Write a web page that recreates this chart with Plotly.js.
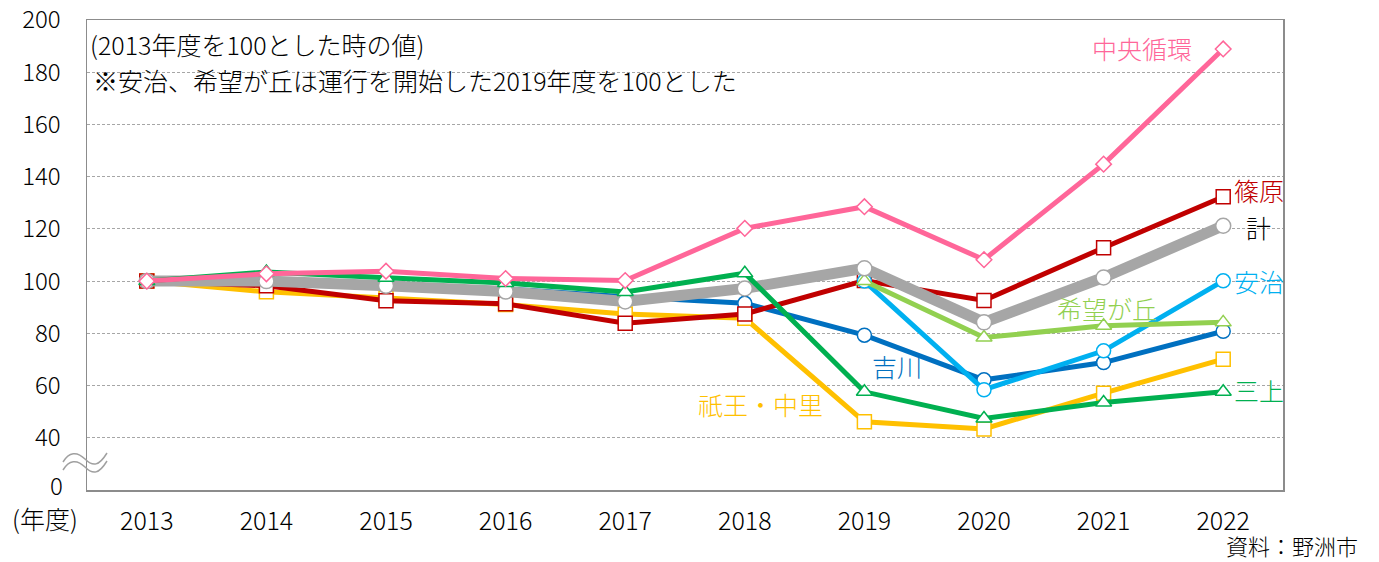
<!DOCTYPE html>
<html>
<head>
<meta charset="utf-8">
<script src="https://cdn.plot.ly/plotly-3.0.1.min.js"></script>
<style>html,body{margin:0;padding:0;background:#fff;}#chart{width:1379px;height:562px;}</style>
</head>
<body>
<div id="chart"></div>
<script>
// ---- data ----
const years = ['2013','2014','2015','2016','2017','2018','2019','2020','2021','2022'];
const chuoJunkan = [100, 102.8, 103.8, 101, 100.2, 120.2, 128.5, 108.2, 144.8, 188.9];
const shinohara  = [100, 98.2, 92.5, 91.3, 83.9, 87.4, 100.2, 92.6, 112.8, 132.3];
const total      = [100, 100, 98.2, 96, 92.2, 97.2, 104.9, 84.2, 101.4, 121.2];
const mikami     = [100, 103.5, 101.3, 99.3, 95.8, 103, 57.6, 47.4, 53.5, 57.6];
const kikkawa    = [100, 100, 98.8, 97, 94, 91.5, 79.3, 62.2, 68.8, 80.8];
const giNakazato = [100, 95.9, 93.5, 91, 87.4, 85.8, 46.1, 43.4, 57.1, 70.1];
const aji        = [null, null, null, null, null, null, 100, 58.4, 73.3, 100.1];
const kibogaoka  = [null, null, null, null, null, null, 100, 78.4, 82.9, 84.2];
const yTickVals  = [40, 60, 80, 100, 120, 140, 160, 180, 200];
const yTickText  = ['40', '60', '80', '100', '120', '140', '160', '180', '200'];

// ---- layout geometry (pixels) ----
const L = 87, R = 1283, T = 20, B = 490, FW = 1379, FH = 562;
const W = R - L, H = B - T;
const px = x => (x - L) / W;
const py = y => (B - y) / H;
const FONT = '"Noto Sans CJK JP", "Noto Sans", sans-serif';
const WEIGHT = 300;

function series(name, ys, color, lw, symbol, msize) {
  return {
    type: 'scatter', mode: 'lines+markers', name: name,
    x: years, y: ys, connectgaps: false,
    line: {color: color, width: lw},
    marker: {symbol: symbol, size: msize, color: '#ffffff', line: {color: color, width: 1.5}},
    hoverinfo: 'x+y+name'
  };
}

const traces = [
  series('祇王・中里', giNakazato, '#FFC000', 5, 'square', 14),
  series('吉川', kikkawa, '#0070C0', 5, 'circle', 14),
  series('篠原', shinohara, '#C00000', 5, 'square', 14),
  series('安治', aji, '#00B0F0', 5, 'circle', 14),
  series('希望が丘', kibogaoka, '#92D050', 5, 'triangle-up', 14),
  series('計', total, '#A6A6A6', 11, 'circle', 15),
  series('三上', mikami, '#00B050', 5, 'triangle-up', 14),
  series('中央循環', chuoJunkan, '#FF6699', 5, 'diamond', 12)
];

function lab(text, x, y, color, xanchor, size) {
  return {text: text, xref: 'paper', yref: 'paper', x: px(x), y: py(y),
    xanchor: xanchor || 'center', yanchor: 'middle', showarrow: false,
    font: {family: FONT, size: size || 25, color: color, weight: WEIGHT}};
}

const annotations = [
  lab('中央循環', 1142, 48, '#FF6699'),
  lab('篠原', 1259, 190, '#C00000'),
  lab('計', 1258, 227, '#000000'),
  lab('安治', 1259, 281, '#00B0F0'),
  lab('希望が丘', 1107, 308, '#92D050'),
  lab('吉川', 897, 366, '#0070C0'),
  lab('祇王・中里', 760, 404, '#FFC000'),
  lab('三上', 1259, 390, '#00B050'),
  lab('(2013年度を100とした時の値)', 88, 44, '#000000', 'left', 25),
  lab('※安治、希望が丘は運行を開始した2019年度を100とした', 91, 80, '#000000', 'left', 25),
  lab('0', 65, 484, '#000000', 'right', 24),
  lab('(年度)', 45, 518, '#000000', 'center', 25),
  lab('資料：野洲市', 1292, 545, '#000000', 'center', 22)
];

// axis break symbol (two wavy lines)
function wave(dy) {
  const p = (x, y) => px(x) + ',' + py(y + dy);
  return 'M' + p(63, 462) + ' C' + p(69, 452) + ' ' + p(77, 451) + ' ' + p(85, 459) +
         ' S' + p(99, 466) + ' ' + p(107, 453);
}
const shapes = [
  {type: 'path', xref: 'paper', yref: 'paper', path: wave(0), line: {color: '#A0A0A0', width: 1.5}},
  {type: 'path', xref: 'paper', yref: 'paper', path: wave(8), line: {color: '#A0A0A0', width: 1.5}}
];

const layout = {
  width: FW, height: FH,
  margin: {l: L, r: FW - R, t: T, b: FH - B, pad: 0},
  paper_bgcolor: '#ffffff', plot_bgcolor: '#ffffff',
  showlegend: false,
  font: {family: FONT, size: 24, color: '#000000', weight: WEIGHT},
  xaxis: {
    type: 'category', range: [-0.5, 9.5], categoryorder: 'array', categoryarray: years,
    showgrid: false, zeroline: false,
    showline: true, mirror: true, linecolor: '#8C8C8C', linewidth: 1.5,
    ticks: '', ticklabelstandoff: 8,
    tickfont: {family: FONT, size: 25, color: '#000000', weight: WEIGHT}
  },
  yaxis: {
    range: [20, 200], tickvals: yTickVals, ticktext: yTickText,
    showgrid: true, gridcolor: '#A6A6A6', gridwidth: 1, griddash: '3px,2px',
    zeroline: false,
    showline: true, mirror: true, linecolor: '#8C8C8C', linewidth: 1.5,
    ticks: '', ticklabelstandoff: 20,
    tickfont: {family: FONT, size: 24, color: '#000000', weight: WEIGHT}
  },
  annotations: annotations,
  shapes: shapes
};

Plotly.newPlot('chart', traces, layout, {displayModeBar: false, staticPlot: true});
</script>
</body>
</html>
